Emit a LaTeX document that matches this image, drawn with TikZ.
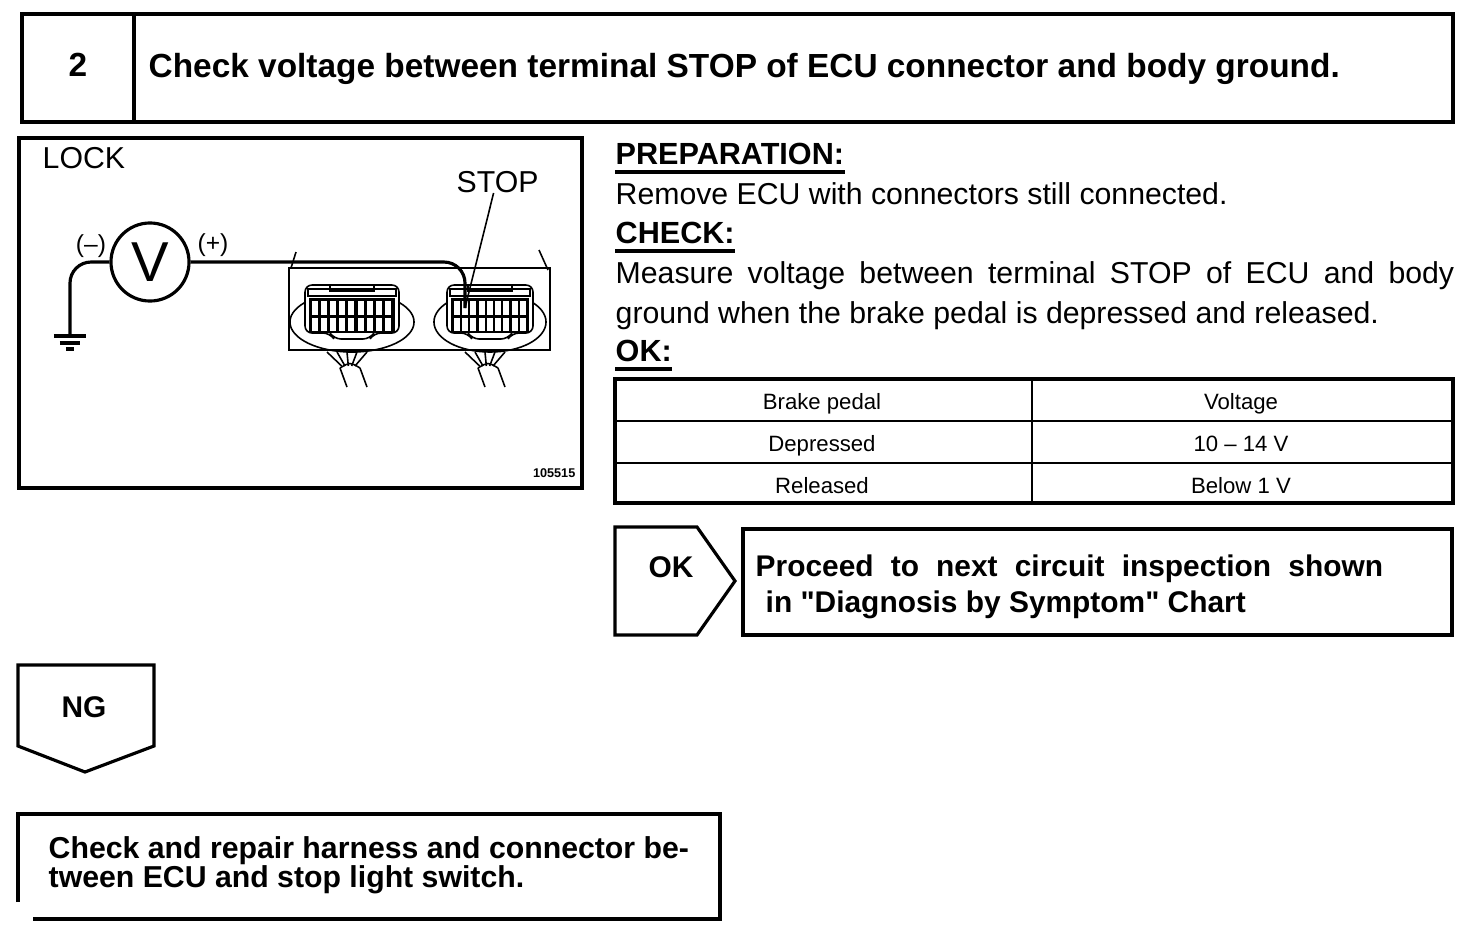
\documentclass[tikz,border=0pt]{standalone}
\usepackage{fontspec}
\setmainfont{Liberation Sans}
\usetikzlibrary{positioning,shapes.geometric}
\newcommand{\titlefont}{\fontsize{9.5}{11}\selectfont\bfseries}
\newcommand{\headfont}{\fontsize{8.7}{11}\selectfont\bfseries}
\newcommand{\boxfont}{\fontsize{8.5}{11}\selectfont\bfseries}
\newcommand{\bodyfont}{\fontsize{8.6}{11.4}\selectfont}
\newcommand{\tabfont}{\fontsize{6.3}{8}\selectfont}

\begin{document}
\begin{tikzpicture}[x=0.01cm,y=-0.01cm,
		box/.style={draw, line width=0.9pt},
		txt/.style={inner sep=0pt},
		wire/.style={line width=0.9pt, rounded corners=6},
		thin/.style={line width=0.45pt}]
	\useasboundingbox (0,0) rectangle (1472,936);

	\draw[box] (22,14) rectangle (1453,122);
	\draw[box] (134,14) -- (134,122);
	\node[txt, anchor=base, font=\titlefont] (num) at (78,76) {2};
	\node[txt, anchor=base west, font=\titlefont] (title) at (148,77) {Check voltage between terminal STOP of ECU connector and body ground.};

	\draw[box] (19,138) rectangle (582,488);
	\node[txt, anchor=base west, font=\bodyfont] (lock) at (42,168) {LOCK};
	\node[txt, anchor=base west, font=\bodyfont] (stoplbl) at (456,192) {STOP};
	\node[circle, draw, line width=0.9pt, minimum size=0.78cm, inner sep=0pt, font=\fontsize{16}{16}\selectfont] (meter) at (150,262) {V};
	\node[txt, font=\fontsize{7}{8}\selectfont] (neg) at (91,246) {(--)};
	\node[txt, font=\fontsize{7}{8}\selectfont] (pos) at (213,245) {(+)};
	\coordinate (gnd) at (70,336);
	\coordinate (pin) at (465,308);

	\draw[thin] (289,268) rectangle (550,350);
	\draw[thin] (296,252) -- (291,268);
	\draw[thin] (539,250) -- (548,270);
	\foreach \cx/\cw/\rx in {352/47/0.62cm, 490/43/0.56cm} {
		\draw[thin] (\cx,322) ellipse ({\rx} and 0.3cm);
		\draw[thin, fill=white, rounded corners=2] ({\cx-\cw},285) -- ({\cx+\cw},285) -- ({\cx+\cw},333) -- ({\cx+22},333) -- ({\cx+18},339) -- ({\cx-18},339) -- ({\cx-22},333) -- ({\cx-\cw},333) -- cycle;
		\draw[thin] ({\cx-\cw+3},289) rectangle ({\cx+\cw-3},296);
		\draw[thin] ({\cx-22},285) rectangle ({\cx+22},291);
		\fill ({\cx-\cw+4},298) rectangle ({\cx+\cw-4},333);
		\foreach \i in {0,...,8} {
			\fill[white] ({\cx-\cw+7+\i*(2*\cw-12)/9},301) rectangle +(6,14);
			\fill[white] ({\cx-\cw+7+\i*(2*\cw-12)/9},318) rectangle +(6,13);
		}
		\draw[thin] ({\cx-12},368) -- ({\cx-5},387);
		\draw[thin] ({\cx+8},368) -- ({\cx+15},387);
		\draw[thin] ({\cx-12},368) .. controls ({\cx-2},362) .. ({\cx+8},368);
		\foreach \f in {-25,-15,-5,5,15} {
			\draw[thin] ({\cx+\f},352) -- ({\cx-2+\f/3},366);
		}
	}

	\draw[wire] (meter.west) -| (gnd);
	\draw[line width=0.9pt] ([xshift=-0.16cm]gnd) -- ([xshift=0.16cm]gnd);
	\draw[line width=0.9pt] ([xshift=-0.1cm,yshift=-0.07cm]gnd) -- ([xshift=0.1cm,yshift=-0.07cm]gnd);
	\draw[line width=0.9pt] ([xshift=-0.04cm,yshift=-0.13cm]gnd) -- ([xshift=0.04cm,yshift=-0.13cm]gnd);
	\draw[wire] (meter.east) -| (pin);
	\draw[thin] ([xshift=-0.04cm]stoplbl.south) -- (pin);
	\node[txt, anchor=base east, font=\fontsize{3.6}{4}\selectfont\bfseries] (figno) at (576,477) {105515};

	\node[txt, anchor=base west, font=\headfont] (prep) at (615,164) {PREPARATION:};
	\draw[line width=0.9pt] ([yshift=-0.07cm]prep.south west) -- ([yshift=-0.07cm]prep.south east);
	\node[txt, anchor=base west, font=\bodyfont] (remove) at (615,204) {Remove ECU with connectors still connected.};
	\node[txt, anchor=base west, font=\headfont] (check) at (615,243) {CHECK:};
	\draw[line width=0.9pt] ([yshift=-0.07cm]check.south west) -- ([yshift=-0.07cm]check.south east);
	\node[txt, anchor=base west, font=\bodyfont] (meas1) at (615,283) {\makebox[8.38cm][s]{Measure voltage between terminal STOP of ECU and body}};
	\node[txt, anchor=base west, font=\bodyfont] (meas2) at (615,323) {ground when the brake pedal is depressed and released.};
	\node[txt, anchor=base west, font=\headfont] (okhead) at (615,361) {OK:};
	\draw[line width=0.9pt] ([yshift=-0.07cm]okhead.south west) -- ([yshift=-0.07cm]okhead.south east);

	\draw[line width=0.9pt] (615,379) rectangle (1453,503);
	\draw[line width=0.6pt] (615,421) -- (1453,421);
	\draw[line width=0.6pt] (615,463) -- (1453,463);
	\draw[line width=0.6pt] (1032,379) -- (1032,503);
	\node[txt, anchor=base, font=\tabfont] (pedal) at (822,409) {Brake pedal};
	\node[txt, anchor=base, font=\tabfont] (volt) at (1241,409) {Voltage};
	\node[txt, anchor=base, font=\tabfont] (dep) at (822,451) {Depressed};
	\node[txt, anchor=base, font=\tabfont] (depv) at (1241,451) {10 -- 14 V};
	\node[txt, anchor=base, font=\tabfont] (rel) at (822,493) {Released};
	\node[txt, anchor=base, font=\tabfont] (relv) at (1241,493) {Below 1 V};

	\draw[box] (615,527) -- (697,527) -- (735,581) -- (697,635) -- (615,635) -- cycle;
	\node[txt, anchor=base, font=\boxfont] (ok) at (671,577) {OK};
	\draw[box] (743,529) rectangle (1452,635);
	\node[txt, anchor=base west, font=\boxfont] (proc1) at (755,576) {\makebox[6.27cm][s]{Proceed to next circuit inspection shown}};
	\node[txt, anchor=base west, font=\boxfont] (proc2) at (765,612) {in \textquotedbl Diagnosis by Symptom\textquotedbl{} Chart};

	\draw[box] (18,665) -- (154,665) -- (154,746) -- (85,772) -- (18,746) -- cycle;
	\node[txt, anchor=base, font=\boxfont] (ng) at (84,717) {NG};

	\draw[box] (18,902) -- (18,814) -- (720,814) -- (720,919) -- (33,919);
	\node[txt, anchor=base west, font=\fontsize{8.6}{11}\selectfont\bfseries] (repair1) at (48,858) {Check and repair harness and connector be-};
	\node[txt, anchor=base west, font=\fontsize{8.6}{11}\selectfont\bfseries] (repair2) at (48,887) {tween ECU and stop light switch.};
\end{tikzpicture}
\end{document}
